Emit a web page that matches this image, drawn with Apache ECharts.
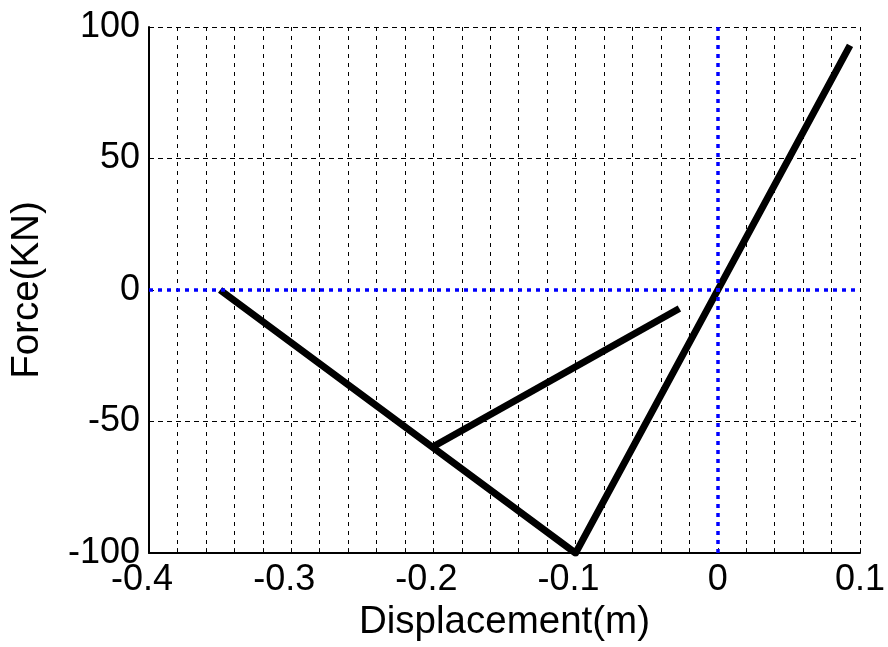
<!DOCTYPE html>
<html>
<head>
<meta charset="utf-8">
<script src="https://cdn.jsdelivr.net/npm/echarts@6/dist/echarts.min.js"></script>
<style>
  html, body { margin: 0; padding: 0; background: #fff; }
  #chart { width: 888px; height: 647px; }
</style>
</head>
<body>
<div id="chart"></div>
<script>
// Force–displacement path (loading / unloading branches)
const dispMain = [-0.35, -0.1, 0.093];
const forceMain = [0, -100, 93];
const dispBranch = [-0.2, -0.027];
const forceBranch = [-59.5, -7];

const xTicks = [-0.4, -0.3, -0.2, -0.1, 0, 0.1];
const yTicks = [-100, -50, 0, 50, 100];

const FONT = 'Liberation Sans, Arial, sans-serif';

function pairs(xs, ys) {
  return xs.map((x, i) => [x, ys[i]]);
}

// grid lines everywhere except on the zero lines (those are drawn in blue)
const xGridColors = xTicks.map(v => (v === 0 ? 'rgba(0,0,0,0)' : '#000'));
const yGridColors = yTicks.map(v => (v === 0 ? 'rgba(0,0,0,0)' : '#000'));

const chart = echarts.init(document.getElementById('chart'), null, { renderer: 'canvas' });

chart.setOption({
  animation: false,
  backgroundColor: '#fff',
  grid: { left: 149, right: 26, top: 27, bottom: 91, containLabel: false },
  xAxis: {
    type: 'value',
    min: xTicks[0],
    max: xTicks[xTicks.length - 1],
    interval: 0.1,
    name: 'Displacement(m)',
    nameLocation: 'middle',
    nameGap: 48,
    nameTextStyle: { color: '#000', fontFamily: FONT, fontSize: 38.5 },
    axisLine: { onZero: false, lineStyle: { color: '#000', width: 2 } },
    axisTick: { inside: true, length: 5, lineStyle: { color: '#000' } },
    minorTick: { show: true, splitNumber: 5, length: 5, lineStyle: { color: '#000' } },
    axisLabel: {
      color: '#000', fontFamily: FONT, fontSize: 36, margin: 9,
      formatter: v => {
        const s = String(Math.round(v * 10) / 10);
        // negative labels sit a little left of their tick
        return v < 0 ? '{neg|' + s + '}' : s;
      },
      rich: {
        neg: { color: '#000', fontFamily: FONT, fontSize: 36, padding: [0, 14, 0, 0] }
      }
    },
    splitLine: { show: true, lineStyle: { color: xGridColors, type: [4, 5], width: 1 } },
    minorSplitLine: { show: true, lineStyle: { color: '#000', type: [4, 5], width: 1 } }
  },
  yAxis: {
    type: 'value',
    min: yTicks[0],
    max: yTicks[yTicks.length - 1],
    interval: 50,
    name: 'Force(KN)',
    nameLocation: 'middle',
    nameGap: 102,
    nameTextStyle: { color: '#000', fontFamily: FONT, fontSize: 38.5 },
    axisLine: { onZero: false, lineStyle: { color: '#000', width: 2 } },
    axisTick: { inside: true, length: 5, lineStyle: { color: '#000' } },
    axisLabel: { color: '#000', fontFamily: FONT, fontSize: 36, margin: 9 },
    splitLine: { show: true, lineStyle: { color: yGridColors, type: [5, 4], width: 1 } }
  },
  series: [
    {
      // blue dotted zero reference lines
      type: 'line',
      data: [],
      z: 1,
      markLine: {
        silent: true,
        symbol: 'none',
        label: { show: false },
        lineStyle: { color: '#0000ff', type: [4, 5], width: 3.5 },
        data: [{ xAxis: 0 }, { yAxis: 0 }]
      }
    },
    {
      type: 'line',
      data: pairs(dispMain, forceMain),
      z: 3,
      showSymbol: false,
      symbol: 'none',
      clip: true,
      lineStyle: { color: '#000', width: 7, join: 'round' }
    },
    {
      type: 'line',
      data: pairs(dispBranch, forceBranch),
      z: 3,
      showSymbol: false,
      symbol: 'none',
      clip: true,
      lineStyle: { color: '#000', width: 7 }
    }
  ]
});
</script>
</body>
</html>
